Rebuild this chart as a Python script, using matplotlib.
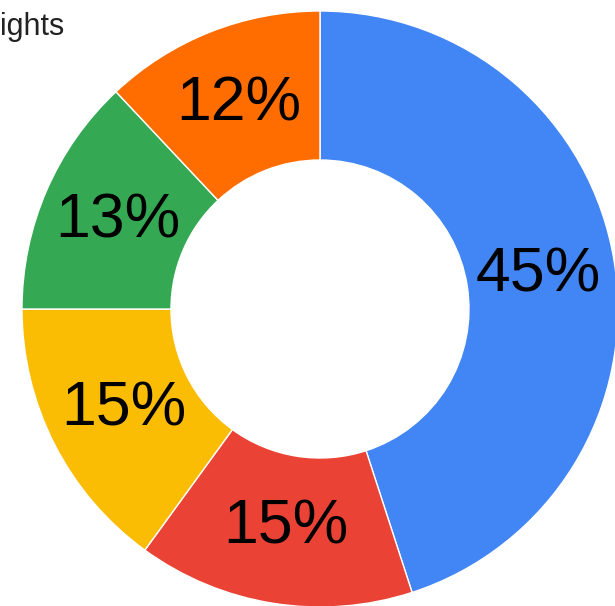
import matplotlib
matplotlib.use("Agg")
import matplotlib.pyplot as plt

labels = ["A", "B", "C", "D", "E"]
values = [45, 15, 15, 13, 12]
colors = ["#4285F4", "#EA4335", "#FBBC04", "#34A853", "#FF6D01"]
title = "ights"

W, H = 615, 606
fig = plt.figure(figsize=(W / 100, H / 100), dpi=100)
ax = fig.add_axes([0, 0, 1, 1])
cx, cy, R = 320, H - 309, 298
wedges, texts, autotexts = ax.pie(
    values, colors=colors, startangle=90, counterclock=False,
    center=(cx, cy), radius=R, autopct='%1.0f%%', pctdistance=0.74,
    wedgeprops=dict(width=R * 0.5, edgecolor="white", linewidth=1),
    textprops=dict(fontsize=45, family="Liberation Sans", color="black"))
ax.set_xlim(0, W)
ax.set_ylim(0, H)
ax.set_aspect('auto')
ax.axis('off')
fig.text(0 / W, 1 - 35 / H, title, fontsize=22, family="Liberation Sans",
         color="#222222", ha="left", va="baseline")
fig.savefig("out.png", dpi=100)
